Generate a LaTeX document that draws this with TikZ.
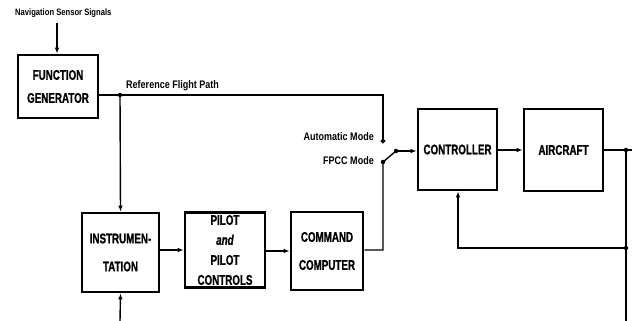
\documentclass[tikz,border=0pt]{standalone}
\usepackage{fontspec}
\newfontfamily\boxfont{Liberation Sans}[FakeStretch=0.7, FakeBold=1]
\newfontfamily\lblfont{Liberation Sans}[FakeStretch=0.82]
\usetikzlibrary{arrows.meta}
\begin{document}
\begin{tikzpicture}[x=1pt, y=-1pt,
    block/.style={draw, line width=2.6pt, minimum width=#1, inner sep=0pt,
                  align=center, font=\boxfont\bfseries\fontsize{14}{28}\selectfont},
    conn/.style={line width=1.4pt},
    arr/.style={conn, -{Latex[length=6pt, width=4.5pt]}},
    lbl/.style={font=\lblfont\bfseries\fontsize{11}{12}\selectfont, inner sep=0pt},
    jdot/.style={circle, fill, inner sep=0pt, minimum size=4.5pt}]
  \useasboundingbox (0,0) rectangle (632,321);
  % Blocks
  \node[block=80pt, minimum height=63pt, font=\boxfont\bfseries\fontsize{14}{23}\selectfont]
    (fg) at (58,86.5) {FUNCTION\\GENERATOR};
  \node[block=77pt, minimum height=79pt] (instr) at (120.5,252.5) {INSTRUMEN-\\TATION};
  \node[block=80pt, minimum height=75pt, font=\boxfont\bfseries\fontsize{14}{20}\selectfont]
    (pilot) at (225,250) {PILOT\\\textit{and}\\PILOT\\CONTROLS};
  \node[block=72pt, minimum height=78pt] (cmd) at (327,251) {COMMAND\\COMPUTER};
  \node[block=79pt, minimum height=81pt] (ctrl) at (457.5,149.5) {CONTROLLER};
  \node[block=79pt, minimum height=82pt] (ac) at (563.5,150) {AIRCRAFT};
  % Labels
  \node[lbl, anchor=west, font=\lblfont\bfseries\fontsize{9.3}{11}\selectfont]
    (navlbl) at (15,13) {Navigation Sensor Signals};
  \node[lbl, anchor=west] (reflbl) at (126,86) {Reference Flight Path};
  \node[lbl, anchor=east] (autolbl) at (374,137) {Automatic Mode};
  \node[lbl, anchor=east] (fpcclbl) at (374,161) {FPCC Mode};
  % Points on the lines
  \coordinate (navin) at (57,23);
  \coordinate (refdot) at (120,95);
  \coordinate (refcorner) at (383,95);
  \coordinate (autopin) at (383,141);
  \coordinate (fpccpin) at (383,162);
  \coordinate (swarm) at (396,151);
  \coordinate (cmdcorner) at (383,250);
  \coordinate (acout) at (626,150);
  \coordinate (acend) at (632,150);
  \coordinate (fbdot) at (626,248);
  \coordinate (fbcorner) at (458,248);
  \coordinate (fbend) at (626,321);
  \coordinate (instrin) at (120,321);
  % Connectors
  \draw[arr] (navin) -- (fg.north -| navin);
  \draw[conn] (fg.east |- refdot) -- (refdot) -- (refcorner) -- (autopin);
  \draw[conn, fill=white] (autopin) circle (1.6pt);
  \draw[arr] (refdot) -- (instr.north);
  \draw[arr] (instrin) -- (instr.south);
  \draw[arr] (instr.east |- pilot) -- (pilot.west);
  \draw[arr] (pilot.east |- cmd) -- (cmd.west);
  \draw[conn] (cmd.east |- cmdcorner) -- (cmdcorner) -- (fpccpin) -- (swarm);
  \draw[arr] (swarm) -- (ctrl.west |- swarm);
  \draw[arr] (ctrl.east |- ac) -- (ac.west);
  \draw[conn] (ac.east |- acout) -- (acend);
  \draw[conn] (acout) -- (fbend);
  \draw[arr] (fbdot) -- (fbcorner) -- (ctrl.south -| fbcorner);
  % Junction dots
  \node[jdot] (d1) at (refdot) {};
  \node[jdot] (d2) at (fpccpin) {};
  \node[jdot] (d3) at (swarm) {};
  \node[jdot] (d4) at (acout) {};
  \node[jdot] (d5) at (fbdot) {};
\end{tikzpicture}
\end{document}
